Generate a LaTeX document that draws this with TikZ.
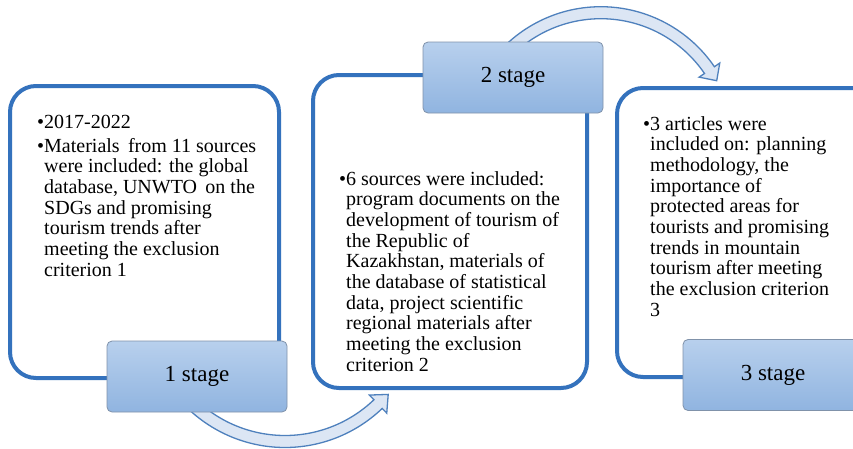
\documentclass[tikz,border=0pt]{standalone}
\usepackage{fontspec}
\setmainfont{Liberation Serif}
\definecolor{boxblue}{RGB}{52,114,189}
\definecolor{stagetop}{RGB}{184,208,237}
\definecolor{stagebot}{RGB}{144,180,224}
\definecolor{stageedge}{RGB}{128,146,170}
\definecolor{arrowfill}{RGB}{220,230,244}
\definecolor{arrowedge}{RGB}{79,129,189}
\newcommand{\bul}{\leavevmode\llap{\textbullet}}
\begin{document}
\begin{tikzpicture}[x=1pt,y=-1pt,
  panel/.style={draw=boxblue, line width=4pt, rounded corners=26pt, fill=white, inner sep=0pt},
  stagebox/.style={draw=stageedge, line width=0.8pt, rounded corners=5pt, top color=stagetop, bottom color=stagebot,
    minimum width=180pt, minimum height=71pt, inner sep=0pt, font=\fontsize{23}{26}\selectfont},
  bodytext/.style={anchor=base west, inner sep=0pt, font=\fontsize{20}{20.7}\selectfont},
  blockarrow/.style={fill=arrowfill, draw=arrowedge, line width=1.3pt, line join=miter}]
\useasboundingbox (0,0) rectangle (853,448);
\clip (0,0) rectangle (853,448);
\fill[white] (0,0) rectangle (853,448);

% panels
\node[panel, minimum width=269pt, minimum height=292pt] (p1) at (144.5,232) {};
\node[panel, minimum width=274pt, minimum height=313pt] (p2) at (450,231.5) {};
\node[panel, minimum width=270pt, minimum height=289pt] (p3) at (752,232.5) {};

% texts
\node[bodytext] (t1) at (44,128) {\parbox[t]{240pt}{\bul 2017-2022\\[3.3pt]
\bul Materials\, from 11 sources\\
were included: the global\\
database, UNWTO\, on the\\
SDGs and promising\\
tourism trends after\\
meeting the exclusion\\
criterion 1}};

\node[bodytext] (t2) at (346,185) {\parbox[t]{240pt}{\bul 6 sources were included:\\
program documents on the\\
development of tourism of\\
the Republic of\\
Kazakhstan, materials of\\
the database of statistical\\
data, project scientific\\
regional materials after\\
meeting the exclusion\\
criterion 2}};

\node[bodytext] (t3) at (650,130) {\parbox[t]{240pt}{\bul 3 articles were\\
included on: planning\\
methodology, the\\
importance of\\
protected areas for\\
tourists and promising\\
trends in mountain\\
tourism after meeting\\
the exclusion criterion\\
3}};

% curved block arrow 1 -> 2
\coordinate (a1o) at ({285+147*cos(46.2)},{307+147*sin(46.2)});
\coordinate (a1i) at ({285+122*cos(46.2)},{307+122*sin(46.2)});
\coordinate (a1tip) at (388.2,394.4);
\filldraw[blockarrow] plot[domain=135:46.2, samples=60] ({285+140.5*cos(\x)},{307+140.5*sin(\x)})
  -- (a1o) -- (a1tip) -- (a1i)
  -- plot[domain=46.2:135, samples=60] ({285+128.5*cos(\x)},{307+128.5*sin(\x)}) -- cycle;

% curved block arrow 2 -> 3
\coordinate (a2o) at ({600.8+144*cos(325.7)},{144.2+144*sin(325.7)});
\coordinate (a2i) at ({600.8+119*cos(325.7)},{144.2+119*sin(325.7)});
\coordinate (a2tip) at (716.7,80.7);
\filldraw[blockarrow] plot[domain=225:325.7, samples=60] ({600.8+137.5*cos(\x)},{144.2+137.5*sin(\x)})
  -- (a2o) -- (a2tip) -- (a2i)
  -- plot[domain=325.7:225, samples=60] ({600.8+125.5*cos(\x)},{144.2+125.5*sin(\x)}) -- cycle;

% stage boxes
\node[stagebox] (s1) at (197,376.5) {1 stage};
\node[stagebox] (s2) at (513,77.5) {2 stage};
\node[stagebox] (s3) at (773,375) {3 stage};
\end{tikzpicture}
\end{document}
